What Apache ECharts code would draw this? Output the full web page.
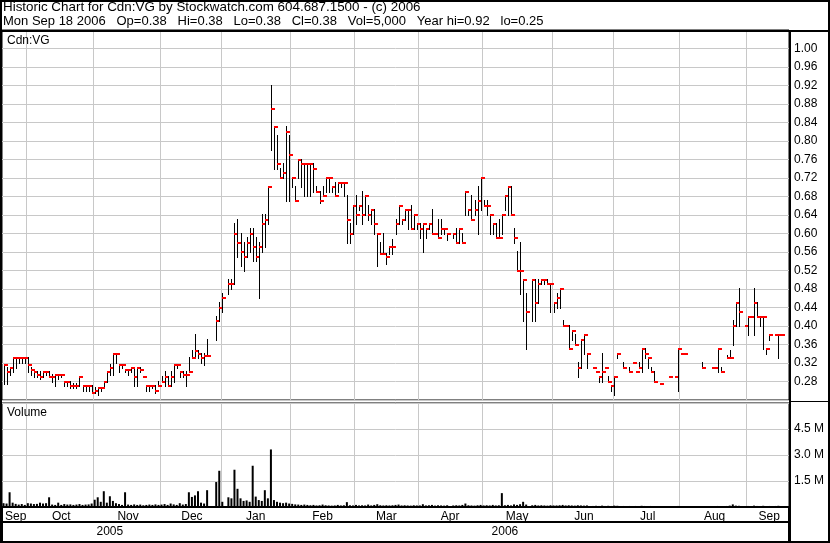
<!DOCTYPE html>
<html><head><meta charset="utf-8">
<script src="https://cdn.jsdelivr.net/npm/echarts@6/dist/echarts.min.js"></script>
<style>html,body{margin:0;padding:0;background:#fff}#c{width:830px;height:543px}</style>
</head><body><div id="c"></div>
<script>
// ---------- DATA ----------
const monthNames = ['Sep','Oct','Nov','Dec','Jan','Feb','Mar','Apr','May','Jun','Jul','Aug','Sep'];
const monthYear  = [2005,2005,2005,2005,2006,2006,2006,2006,2006,2006,2006,2006,2006];
const monthDays  = [8,22,22,20,23,21,21,21,23,20,22,22,14]; // bar slots per month

const high = [
.315,.31,.31,.33,.33,.33,.33,.33,.33,.31,
.30,.30,.30,.30,.30,.30,.295,.295,.295,.295,
.28,.28,.28,.275,.275,.29,.27,.27,.27,.27,
.265,.265,.265,.28,.30,.315,.34,.34,.315,.315,
.305,.305,.31,.305,.31,.31,.29,.27,.27,.27,
.27,.28,.29,.30,.29,.30,.315,.315,.30,.30,
.30,.33,.345,.38,.345,.34,.34,.37,null,null,
.42,.45,.47,null,.50,.50,.62,.63,.60,.58,
.59,.61,.61,.59,.58,.64,.64,.70,.92,.83,
.81,.74,.75,.83,.81,.72,.70,.76,.76,.75,
.75,.75,.75,.70,.69,.70,.72,.72,.70,.71,
.71,.71,.71,.68,.62,.66,.68,.66,.69,.68,
.66,.65,.65,.60,.58,.60,.555,.57,.585,.63,
.66,.63,.65,.65,.66,.64,.62,.62,.62,.61,
.62,.65,.60,.63,.63,.61,.60,null,.60,.61,
.61,.60,.69,.65,.68,.67,.70,.72,.67,.67,
.64,.62,.62,.63,.64,.68,.70,.70,.61,.56,
.58,.50,.47,null,.50,.50,.50,.50,.50,.50,
.49,.45,.47,.48,.41,.40,.40,.39,.38,.32,
.37,.38,.34,null,.31,.30,.29,.34,.31,.29,
.27,.29,.34,null,.32,null,.31,.32,.30,.32,
.35,.35,.33,.31,.30,null,.275,null,null,.29,
null,.29,.35,.34,.34,null,null,null,null,null,
.32,null,null,.31,.31,.35,.31,null,.335,.345,
.41,.45,.48,null,.40,.42,.42,.48,.45,.42,
.42,.35,.38,null,.38,.38,.38,null,null
];
const low = [
.275,.275,.295,.30,.31,.32,.32,.32,.30,.295,
.29,.29,.285,.29,.295,.29,.28,.27,.285,.29,
.27,.27,.265,.265,.265,.27,.26,.26,.26,.255,
.255,.25,.26,.27,.28,.295,.295,.32,.30,.31,
.30,.295,.30,.27,.27,.30,.29,.26,.26,.265,
.255,.27,.28,.27,.27,.27,.28,.31,.29,.29,
.27,.30,.33,.335,.33,.32,.315,.335,null,null,
.37,.41,.43,null,.47,.48,.49,.55,.53,.52,
.55,.56,.54,.54,.46,.56,.57,.62,.78,.74,
.74,.72,.72,.67,.67,.70,.67,.72,.70,.68,
.68,.68,.69,.69,.665,.68,.69,.69,.69,.68,
.69,.70,.68,.58,.58,.60,.62,.65,.62,.64,
.63,.62,.60,.53,.555,.555,.535,.555,.555,.60,
.62,.62,.63,.61,.61,.61,.61,.59,.56,.59,
.61,.60,.60,.59,.60,.60,.585,null,.59,.58,
.58,.58,.64,.64,.63,.64,.60,.65,.66,.64,
.60,.60,.59,.59,.60,.65,.64,.64,.58,.52,
.47,.41,.35,null,.41,.41,.45,.49,.49,.49,
.43,.43,.44,.44,.40,.40,.35,.37,.36,.29,
.31,.34,.31,null,.31,.30,.28,.28,.31,.28,
.26,.25,.33,null,.31,null,.30,.32,.30,.31,
.30,.33,.31,.30,.28,null,.275,null,null,.29,
null,.29,.26,.34,.34,null,null,null,null,null,
.31,null,null,.31,.31,.30,.30,null,.33,.33,
.36,.40,.40,null,.40,.38,.42,.38,.42,.40,
.35,.34,.37,null,.38,.33,.38,null,null
];
const close = [
.315,.30,.31,.33,.33,.33,.33,.33,.315,.305,
.30,.295,.29,.30,.30,.29,.29,.295,.295,.295,
.28,.28,.27,.27,.27,.29,.27,.27,.27,.255,
.26,.265,.265,.28,.30,.31,.34,.34,.315,.315,
.305,.305,.31,.29,.31,.305,.29,.27,.27,.27,
.26,.27,.28,.29,.27,.29,.315,.315,.30,.295,
.295,.30,.33,.345,.34,.33,.335,.335,null,null,
.41,.44,.46,null,.49,.49,.60,.58,.56,.55,
.58,.60,.57,.55,.57,.62,.63,.70,.87,.83,
.75,.72,.73,.82,.77,.72,.67,.76,.75,.75,
.75,.75,.74,.69,.67,.68,.72,.72,.70,.68,
.71,.71,.71,.63,.60,.66,.64,.66,.64,.68,
.64,.65,.62,.60,.555,.555,.55,.57,.57,.62,
.66,.63,.65,.65,.61,.64,.62,.61,.62,.61,
.62,.60,.60,.59,.61,.61,.60,null,.60,.58,
.61,.58,.69,.65,.63,.65,.67,.72,.66,.66,
.64,.62,.59,.59,.64,.68,.70,.64,.59,.52,
.52,.50,.43,null,.50,.45,.49,.50,.50,.49,
.49,.45,.46,.48,.40,.40,.35,.39,.36,.31,
.37,.38,.34,null,.31,.30,.29,.30,.31,.28,
.27,.29,.34,null,.31,null,.30,.32,.30,.31,
.35,.34,.33,.30,.28,null,.275,null,null,.29,
null,.29,.35,.34,.34,null,null,null,null,null,
.31,null,null,.31,.31,.35,.30,null,.33,.33,
.40,.45,.43,null,.40,.42,.42,.45,.42,.42,
.42,.35,.38,null,.38,.38,.38,null,null
];
// volume in millions of shares
const volume = [
.22,.20,.85,.25,.18,.14,.17,.12,.22,.20,
.17,.18,.25,.20,.22,.56,.14,.12,.25,.12,
.17,.14,.15,.12,.14,.17,.12,.14,.15,.20,
.42,.56,.30,.91,.25,.62,.35,.22,.17,.12,
.85,.14,.12,.15,.12,.14,.10,.12,.14,.12,
.15,.12,.14,.17,.12,.20,.15,.12,.22,.14,
.17,.85,.58,.67,.91,.25,.20,.97,null,null,
1.44,2.09,.30,null,.56,.50,2.15,1.05,.50,.35,
.38,.30,2.38,.60,.40,.35,.97,.50,3.32,.40,
.30,.25,.22,.25,.20,.18,.15,.14,.12,.14,
.12,.10,.12,.09,.10,.14,.10,.09,.08,.09,
.12,.09,.10,.28,.10,.09,.12,.09,.10,.09,
.14,.09,.12,.16,.10,.09,.10,.09,.10,.12,
.14,.09,.10,.09,.08,.10,.09,.09,.16,.09,
.10,.12,.08,.10,.09,.08,.10,null,.09,.10,
.09,.12,.20,.10,.09,.08,.10,.12,.09,.10,
.09,.12,.09,.10,.80,.10,.12,.09,.15,.12,
.16,.30,.14,null,.10,.12,.09,.10,.09,.08,
.10,.09,.09,.10,.12,.09,.10,.09,.08,.10,
.09,.08,.09,null,.06,.07,.06,.08,.06,.07,
.06,.08,.07,null,.06,null,.06,.05,.06,.05,
.07,.06,.05,.06,.05,null,.05,null,null,.05,
null,.05,.06,.05,.05,null,null,null,null,null,
.05,null,null,.05,.05,.06,.05,null,.06,.08,
.15,.08,.07,null,.05,.06,.05,.08,.06,.05,
.07,.05,.06,null,.06,.07,.02,null,null
];
const titleLine1 = 'Historic Chart for Cdn:VG by Stockwatch.com 604.687.1500 - (c) 2006';
const titleLine2 = 'Mon Sep 18 2006   Op=0.38   Hi=0.38   Lo=0.38   Cl=0.38   Vol=5,000   Year hi=0.92   lo=0.25';
const symbolLabel = 'Cdn:VG';
const volumeLabel = 'Volume';

// ---------- BUILD ----------
const monthStart = []; let acc = 0;
monthDays.forEach(d => { monthStart.push(acc); acc += d; });
const N = acc;
const cats = Array.from({length: N}, (_, i) => String(i));
const monthStartSet = new Set(monthStart.slice(1));
const monthLabelAt = {};
monthStart.forEach((s, m) => { monthLabelAt[s + Math.floor(monthDays[m] / 2)] = monthNames[m]; });
const yearFirst = {}, yearLast = {};
monthStart.forEach((s, m) => {
  const y = monthYear[m];
  if (!(y in yearFirst)) yearFirst[y] = s;
  yearLast[y] = s + monthDays[m] - 1;
});
const yearLabelAt = {}; const yearBoundary = new Set();
Object.keys(yearFirst).forEach(y => {
  yearLabelAt[Math.floor((yearFirst[y] + yearLast[y]) / 2)] = y;
  if (yearFirst[y] > 0) yearBoundary.add(yearFirst[y]);
});
const ohlc = [];
for (let i = 0; i < N; i++) if (high[i] != null) ohlc.push([i, high[i], low[i], close[i]]);

const FONT = 'Liberation Sans';
const GRID = '#c8c8c8';
const chart = echarts.init(document.getElementById('c'), null, {renderer: 'canvas'});
chart.setOption({
  animation: false,
  backgroundColor: '#fff',
  textStyle: {fontFamily: FONT},
  grid: [
    {left: 2, top: 30, width: 787, height: 370, show: true, borderColor: '#000', borderWidth: 1, backgroundColor: 'transparent'},
    {left: 2, top: 403, width: 787, height: 104, show: true, borderColor: '#000', borderWidth: 1, backgroundColor: 'transparent'}
  ],
  xAxis: [
    {type: 'category', gridIndex: 0, data: cats, boundaryGap: true,
     axisLine: {show: false}, axisTick: {show: false}, axisLabel: {show: false},
     splitLine: {show: true, interval: (i) => monthStartSet.has(i), lineStyle: {color: GRID, width: 1}}},
    {type: 'category', gridIndex: 1, data: cats, boundaryGap: true, position: 'bottom',
     axisLine: {show: true, lineStyle: {color: '#000', width: 2}},
     axisTick: {show: true, interval: (i) => yearBoundary.has(i), length: 15, lineStyle: {color: '#000', width: 2}},
     axisLabel: {show: true, interval: (i) => (i in monthLabelAt), formatter: (v, i) => monthLabelAt[i] || '',
                 color: '#000', fontSize: 12, fontFamily: FONT, margin: 4},
     splitLine: {show: true, interval: (i) => monthStartSet.has(i), lineStyle: {color: GRID, width: 1}}},
    {type: 'category', gridIndex: 1, data: cats, boundaryGap: true, position: 'bottom', offset: 15,
     axisLine: {show: true, lineStyle: {color: '#000', width: 2}},
     axisTick: {show: true, interval: (i) => yearBoundary.has(i), length: 20, lineStyle: {color: '#000', width: 2}},
     axisLabel: {show: true, interval: (i) => (i in yearLabelAt), formatter: (v, i) => yearLabelAt[i] || '',
                 color: '#000', fontSize: 12, fontFamily: FONT, margin: 4},
     splitLine: {show: false}}
  ],
  yAxis: [
    {type: 'value', gridIndex: 0, position: 'right', min: 0.24, max: 1.04, interval: 0.04,
     axisLine: {show: false}, axisTick: {show: false},
     axisLabel: {show: true, showMinLabel: false, showMaxLabel: false, formatter: v => v.toFixed(2),
                 color: '#000', fontSize: 12, fontFamily: FONT, margin: 5},
     splitLine: {show: true, lineStyle: {color: GRID, width: 1}}},
    {type: 'value', gridIndex: 1, position: 'right', min: 0, max: 6, interval: 1.5,
     axisLine: {show: false}, axisTick: {show: false},
     axisLabel: {show: true, showMinLabel: false, showMaxLabel: false, formatter: v => v.toFixed(1) + ' M',
                 color: '#000', fontSize: 12, fontFamily: FONT, margin: 5},
     splitLine: {show: true, lineStyle: {color: GRID, width: 1}}}
  ],
  series: [
    {type: 'custom', xAxisIndex: 0, yAxisIndex: 0, data: ohlc, encode: {x: 0, y: [1, 2, 3]}, clip: true,
     renderItem: (params, api) => {
       const i = api.value(0);
       const pH = api.coord([i, api.value(1)]);
       const pL = api.coord([i, api.value(2)]);
       const pC = api.coord([i, api.value(3)]);
       const x = Math.round(pH[0]) + 0.5;
       return {type: 'group', children: [
         {type: 'line', shape: {x1: x, y1: Math.round(pH[1]) - 1, x2: x, y2: Math.round(pL[1]) + 1},
          style: {stroke: '#000', lineWidth: 1}},
         {type: 'rect', shape: {x: x - 0.5, y: Math.round(pC[1]) - 1, width: 4, height: 2},
          style: {fill: '#ff0000'}}
       ]};
     }},
    {type: 'bar', xAxisIndex: 1, yAxisIndex: 1, data: volume, barWidth: 2,
     itemStyle: {color: '#000'}, silent: true}
  ],
  graphic: [
    {type: 'rect', shape: {x: 1, y: 1, width: 828, height: 541}, style: {fill: null, stroke: '#000', lineWidth: 2}, z: 100},
    {type: 'line', shape: {x1: 0, y1: 31, x2: 830, y2: 31}, style: {stroke: '#000', lineWidth: 2}, z: 100},
    {type: 'line', shape: {x1: 790, y1: 30, x2: 790, y2: 543}, style: {stroke: '#000', lineWidth: 2}, z: 100},
    {type: 'line', shape: {x1: 790, y1: 401.5, x2: 830, y2: 401.5}, style: {stroke: '#000', lineWidth: 1}, z: 100},
    {type: 'text', left: 3, top: 1, style: {text: titleLine1, font: '13.4px ' + FONT, fill: '#000'}, z: 100},
    {type: 'text', left: 3, top: 15, style: {text: titleLine2, font: '13px ' + FONT, fill: '#000'}, z: 100},
    {type: 'text', left: 7, top: 35, style: {text: symbolLabel, font: '12px ' + FONT, fill: '#000'}, z: 100},
    {type: 'text', left: 7, top: 407, style: {text: volumeLabel, font: '12px ' + FONT, fill: '#000'}, z: 100}
  ]
});
</script>
</body></html>
